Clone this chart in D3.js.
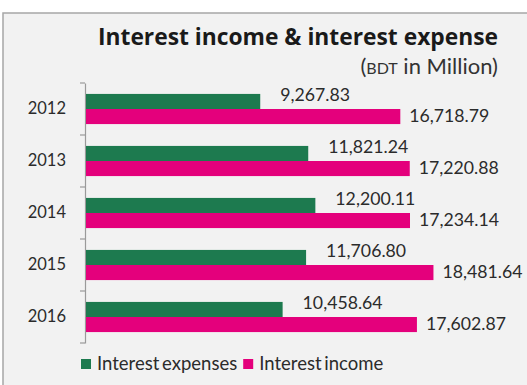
<!DOCTYPE html>
<html>
<head>
<meta charset="utf-8">
<script src="https://cdn.jsdelivr.net/npm/d3@7"></script>
<style>
  html, body { margin: 0; padding: 0; background: #ffffff; }
  svg { display: block; }
  text { font-family: Lato, "Open Sans", sans-serif; fill: #2b2b2b; }
</style>
</head>
<body>
<div id="chart"></div>
<script>
// Annual figures, BDT in million
const years = ["2012", "2013", "2014", "2015", "2016"];
const interestExpenses = [9267.83, 11821.24, 12200.11, 11706.80, 10458.64];
const interestIncome = [16718.79, 17220.88, 17234.14, 18481.64, 17602.87];
const seriesNames = ["Interest expenses", "Interest income"];
const seriesColors = ["#1d7a4f", "#e4007c"];

const W = 527, H = 385;
const svg = d3.select("#chart").append("svg")
  .attr("width", W).attr("height", H);

// Chart panel
svg.append("rect")
  .attr("x", 3).attr("y", 13)
  .attr("width", W + 10).attr("height", H + 10)
  .attr("fill", "#f2f2f2")
  .attr("stroke", "#a6a6a6").attr("stroke-width", 1.5);

// Titles
svg.append("text")
  .attr("x", 498).attr("y", 45)
  .attr("text-anchor", "end")
  .style("font-family", "'Open Sans', sans-serif")
  .style("font-size", "22.8px").style("font-weight", "700")
  .style("fill", "#1a1a1a")
  .text("Interest income & interest expense");

const sub = svg.append("text")
  .attr("x", 498).attr("y", 74)
  .attr("text-anchor", "end")
  .style("font-size", "22px").style("fill", "#333");
sub.append("tspan").text("(");
sub.append("tspan").style("font-size", "16px").text("BDT");
sub.append("tspan").text(" in Million)");

// Scales
const y = d3.scaleBand()
  .domain(years)
  .range([83, 343])
  .paddingInner(0.42)
  .paddingOuter(0.21);

const sub_y = d3.scaleBand()
  .domain([0, 1])
  .range([0, y.bandwidth()]);

const x = d3.scaleLinear()
  .domain([0, 20000])
  .range([86, 86 + 376]);

// Category axis on the left
const yAxis = d3.axisLeft(y.copy().paddingInner(0).paddingOuter(0))
  .tickSize(0).tickPadding(19);
const axisG = svg.append("g")
  .attr("transform", `translate(${x(0) - 1},0)`)
  .call(yAxis);
axisG.select(".domain").attr("stroke", "#9a9a9a").attr("stroke-width", 1.2);
axisG.selectAll(".tick text")
  .style("font-size", "16.5px").style("font-family", "Lato, sans-serif")
  .attr("fill", "#2b2b2b");

// Tick marks at band boundaries
const boundaries = years.map((d) => y(d) - y.step() * 0.21).concat([343]);
axisG.selectAll("line.bound")
  .data(boundaries)
  .join("line")
  .attr("class", "bound")
  .attr("x1", -5).attr("x2", 0)
  .attr("y1", (d) => d).attr("y2", (d) => d)
  .attr("stroke", "#9a9a9a").attr("stroke-width", 1.2);

// Bars
const rows = years.map((yr, i) => ({
  year: yr,
  vals: [interestExpenses[i], interestIncome[i]]
}));

const fmt = d3.format(",.2f");

const groups = svg.append("g").selectAll("g")
  .data(rows)
  .join("g")
  .attr("transform", (d) => `translate(0,${y(d.year)})`);

groups.selectAll("rect")
  .data((d) => d.vals.map((v, k) => ({ v, k })))
  .join("rect")
  .attr("x", x(0))
  .attr("y", (d) => sub_y(d.k))
  .attr("width", (d) => x(d.v) - x(0))
  .attr("height", sub_y.bandwidth())
  .attr("fill", (d) => seriesColors[d.k]);

// Value labels
groups.selectAll("text.val")
  .data((d) => d.vals.map((v, k) => ({ v, k })))
  .join("text")
  .attr("class", "val")
  .attr("x", (d) => x(d.v) + (d.k === 0 ? 20 : 9))
  .attr("y", (d) => d.k === 0 ? sub_y.bandwidth() / 2 : sub_y(1) + sub_y.bandwidth() / 2 + 5)
  .style("font-size", "17.7px")
  .attr("fill", "#2b2b2b")
  .text((d) => fmt(d.v));

// Legend
const legend = svg.append("g").attr("transform", "translate(81,364)");
let lx = 0;
seriesNames.forEach((name, i) => {
  const g = legend.append("g").attr("transform", `translate(${lx},0)`);
  g.append("rect")
    .attr("x", 0).attr("y", -5)
    .attr("width", 10).attr("height", 10)
    .attr("fill", seriesColors[i]);
  const t = g.append("text")
    .attr("x", 16).attr("y", 6)
    .style("font-size", "18.5px")
    .style("word-spacing", "-2px")
    .text(name);
  lx += 16 + t.node().getComputedTextLength() + 6;
});
</script>
</body>
</html>
